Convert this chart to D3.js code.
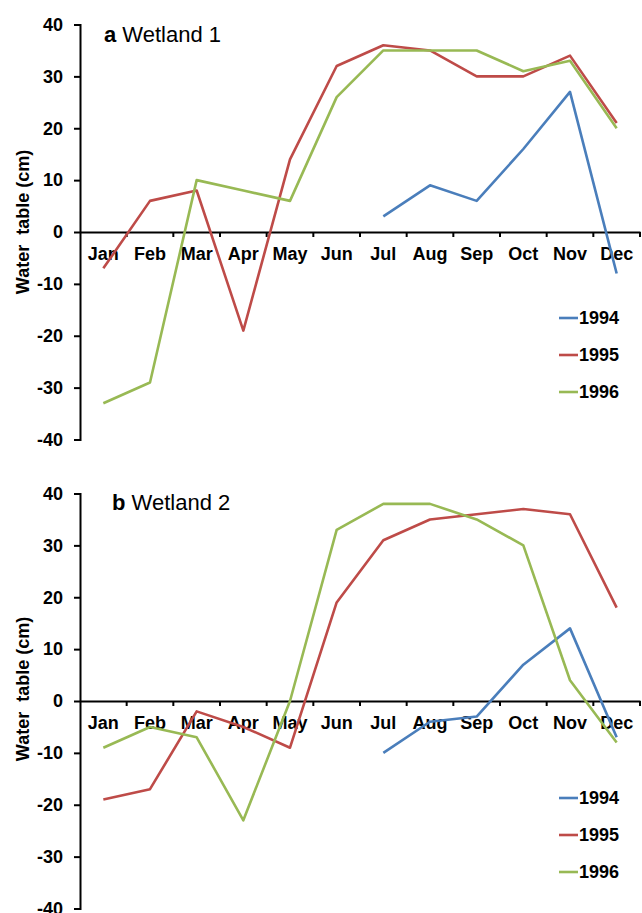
<!DOCTYPE html>
<html lang="en">
<head>
<meta charset="UTF-8">
<title>Water table</title>
<script src="https://cdn.jsdelivr.net/npm/d3@7"></script>
<style>
  body { margin: 0; background: #fff; }
  svg { display: block; font-family: "Liberation Sans", Arial, sans-serif; }
  .axis text { font-size: 18px; font-weight: bold; fill: #000; }
  .axis path, .axis line { stroke: #000; stroke-width: 2; }
</style>
</head>
<body>
<div id="chart"></div>
<script>
// data
var months = ["Jan", "Feb", "Mar", "Apr", "May", "Jun", "Jul", "Aug", "Sep", "Oct", "Nov", "Dec"];
var years = ["1994", "1995", "1996"];
var yTicks = [-40, -30, -20, -10, 0, 10, 20, 30, 40];

var w1_1994 = [null, null, null, null, null, null, 3, 9, 6, 16, 27, -8];
var w1_1995 = [-7, 6, 8, -19, 14, 32, 36, 35, 30, 30, 34, 21];
var w1_1996 = [-33, -29, 10, 8, 6, 26, 35, 35, 35, 31, 33, 20];

var w2_1994 = [null, null, null, null, null, null, -10, -4, -3, 7, 14, -7];
var w2_1995 = [-19, -17, -2, -5, -9, 19, 31, 35, 36, 37, 36, 18];
var w2_1996 = [-9, -5, -7, -23, 0, 33, 38, 38, 35, 30, 4, -8];

var colors = ["#4a7ebb", "#be4b48", "#98b954"];

var svg = d3.select("#chart").append("svg")
    .attr("width", 642)
    .attr("height", 913);

var panels = [
    { letter: "a", name: "Wetland 1", series: [w1_1994, w1_1995, w1_1996],
      top: 24.5, titleX: 104, titleY: 42, legendY: 318, labelY: 222 },
    { letter: "b", name: "Wetland 2", series: [w2_1994, w2_1995, w2_1996],
      top: 493.5, titleX: 112, titleY: 510, legendY: 798, labelY: 689 }
];

panels.forEach(function (p) {
    var g = svg.append("g");

    var x = d3.scaleBand()
        .domain(months)
        .range([80, 640]);

    var y = d3.scaleLinear()
        .domain([-40, 40])
        .range([p.top + 415, p.top]);

    // y axis, plain hyphen for negatives like the original
    g.append("g")
        .attr("class", "axis")
        .attr("transform", "translate(80,0)")
        .call(d3.axisLeft(y).tickValues(yTicks).tickSize(6).tickSizeOuter(6).tickPadding(11)
            .tickFormat(function (d) { return String(d); }));

    // x axis at zero, labels centred in each month
    var xa = g.append("g")
        .attr("class", "axis")
        .attr("transform", "translate(0," + y(0) + ")")
        .call(d3.axisBottom(x).tickSize(0).tickSizeOuter(0).tickPadding(15));
    xa.selectAll(".tick text").attr("dy", "0.71em");

    // tick marks between months
    xa.selectAll(".sep")
        .data(months.slice(1).concat(["end"]))
        .enter().append("line")
        .attr("class", "sep")
        .attr("x1", function (d) { return d === "end" ? x.range()[1] : x(d); })
        .attr("x2", function (d) { return d === "end" ? x.range()[1] : x(d); })
        .attr("y1", 0)
        .attr("y2", 5);

    // y label
    g.append("text")
        .attr("transform", "translate(29," + p.labelY + ") rotate(-90)")
        .attr("text-anchor", "middle")
        .attr("font-size", 18)
        .attr("font-weight", "bold")
        .style("white-space", "pre")
        .text("Water  table (cm)");

    // panel title
    var t = g.append("text")
        .attr("x", p.titleX)
        .attr("y", p.titleY)
        .attr("font-size", 22);
    t.append("tspan").attr("font-weight", "bold").text(p.letter);
    t.append("tspan").text(" " + p.name);

    // series
    var line = d3.line()
        .defined(function (d) { return d != null; })
        .x(function (d, i) { return x(months[i]) + x.bandwidth() / 2; })
        .y(function (d) { return y(d); });

    g.selectAll(".series")
        .data(p.series)
        .enter().append("path")
        .attr("class", "series")
        .attr("fill", "none")
        .attr("stroke", function (d, i) { return colors[i]; })
        .attr("stroke-width", 2.6)
        .attr("stroke-linejoin", "round")
        .attr("d", line);

    // legend
    var item = g.append("g").selectAll("g")
        .data(years)
        .enter().append("g")
        .attr("transform", function (d, i) { return "translate(559," + (p.legendY + i * 37) + ")"; });
    item.append("line")
        .attr("x1", 0).attr("x2", 19)
        .attr("stroke", function (d, i) { return colors[i]; })
        .attr("stroke-width", 2.6);
    item.append("text")
        .attr("x", 20)
        .attr("dy", "0.36em")
        .attr("font-size", 18)
        .attr("font-weight", "bold")
        .text(function (d) { return d; });
});
</script>
</body>
</html>
